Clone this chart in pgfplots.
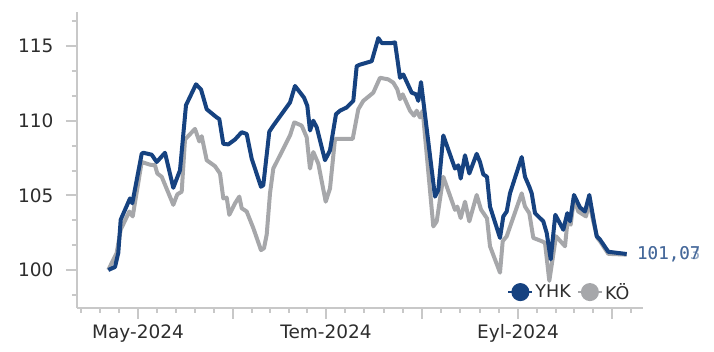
\documentclass[border=0pt]{standalone}
\usepackage{pgfplots}
\pgfplotsset{compat=1.18}
\usepackage{fontspec}
\setmainfont{DejaVu Sans}
\newfontfamily\monofont{DejaVu Sans Mono}
\definecolor{yhk}{RGB}{22,66,128}
\definecolor{ko}{RGB}{166,167,170}
\definecolor{axgray}{RGB}{200,200,200}
\definecolor{txt}{RGB}{45,45,45}
\begin{document}
\begin{tikzpicture}
\path[use as bounding box] (0,0) rectangle (714pt,352pt);
\begin{axis}[
  at={(77pt,44pt)}, anchor=south west,
  scale only axis, width=566pt, height=296pt,
  xmin=77, xmax=643, ymin=97.45, ymax=117.3,
  axis x line*=bottom, axis y line*=left,
  axis line style={axgray, line width=2.5pt, -},
  every tick/.style={axgray, line width=2pt},
  tick align=outside,
  major tick length=11pt, minor tick length=5pt,
  xtick={138,233,326,422,518,612},
  xticklabels={May-2024,,Tem-2024,,Eyl-2024,},
  minor xtick={81,100,119,157,176,195,214,251.6,270.2,288.8,307.4,345.2,364.4,383.6,402.8,441.2,460.4,479.6,498.8,536.8,555.6,574.4,593.2,630.8},
  ytick={100,105,110,115},
  minor ytick={98.333,101.667,103.333,106.667,108.333,111.667,113.333,116.667},
  /pgf/number format/assume math mode=true,
  tick label style={font=\fontsize{18.5}{20}\selectfont, text=txt},
  yticklabel style={xshift=-9pt},
  xticklabel style={yshift=-2pt},
  legend style={draw=none, fill=none, at={(0.985,0.01)}, anchor=south east,
    font=\fontsize{17.5}{19}\selectfont, text=txt, legend columns=2,
    /tikz/every odd column/.append style={column sep=0pt},
    /tikz/every even column/.append style={column sep=4pt},
    nodes={inner xsep=2pt}},
  reverse legend,
  legend image code/.code={\draw[#1, line width=2.2pt] (0pt,0pt) -- (24pt,0pt);
     \fill[#1] (12pt,0pt) circle (7pt);},
  clip=false,
]
\addplot[ko, line width=4pt, line join=round] coordinates {
(108.3,100.0)(116.7,101.15)(120.7,102.70)(129.3,103.92)(132.7,103.59)(141.7,107.24)
(150,107.06)(155,107.02)(157.3,106.47)(161.7,106.25)(173.3,104.37)(177.3,105.07)
(181.7,105.25)(185,108.75)(195,109.46)(199.3,108.62)(201.7,108.97)(206.7,107.36)
(215,106.96)(220,106.47)(223.3,104.80)(226.7,104.85)(229.3,103.70)(235,104.47)
(239.3,104.92)(241.7,104.14)(246.7,103.92)(253.3,102.81)(261,101.33)(264,101.46)
(266.7,102.37)(270,105.14)(273.3,106.80)(290,109.02)(294.3,109.90)(301.7,109.68)
(306.7,108.90)(310,106.80)(313.3,107.91)(318.3,107.13)(325.7,104.58)(330,105.47)
(335,108.79)(343.3,108.79)(352.7,108.79)(358.3,110.78)(363.3,111.34)(373.3,111.89)
(380,112.89)(388.3,112.78)(393.3,112.56)(397.3,112.11)(400,111.45)(402.7,111.78)
(410,110.68)(414,110.35)(416.7,110.68)(420,110.23)(422.7,110.68)(433.3,102.92)
(436.7,103.26)(443.3,106.25)(455,104.03)(457.3,104.25)(460.7,103.48)(465,104.58)
(469.3,103.26)(476.7,105.03)(481,104.05)(487,103.46)(490,101.59)(500,99.82)
(502.7,101.93)(506.7,102.26)(521.7,105.14)(525,104.25)(529.3,103.81)(533.3,102.15)
(541.7,101.93)(545,101.82)(549.3,99.27)(556,102.26)(565,101.59)(567.3,103.14)
(570.7,103.04)(574,104.80)(578.3,103.92)(586,103.59)(589.3,104.58)(593.3,103.26)
(597.3,102.15)(600,101.93)(608.3,101.08)(626.7,101.03)
};
\addlegendentry{KÖ}
\addplot[yhk, line width=4pt, line join=round] coordinates {
(108.3,100.0)(115,100.20)(118.3,101.15)(120.7,103.37)(130,104.80)(132.3,104.47)
(141.7,107.79)(143.3,107.86)(151.7,107.73)(156.7,107.24)(165,107.86)(173.3,105.51)
(180,106.69)(186,111.05)(196,112.45)(201,112.11)(206.7,110.78)(216.7,110.23)
(219.3,110.12)(223.3,108.46)(228.3,108.42)(235,108.75)(241.7,109.24)(246.7,109.12)
(251.7,107.46)(261,105.58)(263.3,105.69)(269.3,109.28)(273.3,109.68)(290,111.23)
(295,112.34)(304,111.56)(307.3,111.01)(310,109.35)(313.3,110.01)(316.7,109.57)
(325,107.36)(330,108.02)(336,110.45)(340,110.68)(346.7,110.90)(353.3,111.34)
(356.7,113.67)(360,113.77)(371.7,114.00)(378.3,115.55)(381.7,115.22)(391.7,115.22)
(395,115.26)(400,112.89)(403.3,113.11)(411.7,111.89)(416,111.78)(418.3,111.34)
(421,112.60)(423.3,111.34)(435,104.92)(438.3,105.36)(443.3,109.02)(455,106.80)
(458.3,107.02)(460.7,106.13)(465,107.69)(469.3,106.47)(476.7,107.79)(480,107.24)
(483.3,106.41)(487,106.25)(490,104.25)(500,102.15)(503.3,103.59)(506.7,103.92)
(510,105.14)(521.7,107.57)(525,106.25)(529.3,105.58)(531.7,105.14)(535,103.81)
(543.3,103.26)(546.7,102.48)(550.7,100.71)(555.3,103.70)(563.3,102.70)(567.3,103.81)
(570,103.26)(574,105.03)(580,104.19)(585,103.92)(589.3,105.03)(593.3,103.48)
(596.7,102.26)(600,102.04)(608.3,101.22)(626.7,101.07)
};
\addlegendentry{YHK}
\node[anchor=west, inner sep=0pt, text=yhk!45!white, font=\monofont\fontsize{17.5}{19}\selectfont] at (axis cs:637,101.05) {101,03};
\node[anchor=west, inner sep=0pt, text=yhk!80!white, font=\monofont\fontsize{17.5}{19}\selectfont] at (axis cs:637,101.05) {101,07};
\end{axis}
\end{tikzpicture}
\end{document}
